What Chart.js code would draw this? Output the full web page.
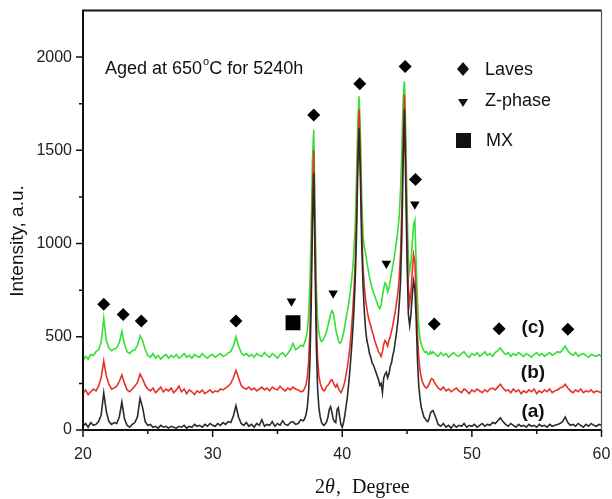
<!DOCTYPE html>
<html>
<head>
<meta charset="utf-8">
<script src="https://cdn.jsdelivr.net/npm/chart.js@4.4.1/dist/chart.umd.min.js"></script>
<style>
  html, body { margin: 0; padding: 0; background: #fff; }
  #wrap { width: 612px; height: 499px; }
</style>
</head>
<body>
<div id="wrap"><canvas id="xrd" width="612" height="499"></canvas></div>
<script>
// sampling of 2theta: [from, to, step]
const angleSegments = [[20, 36.8, 0.2], [37, 46.9, 0.1], [47, 60, 0.2]];

// (a) black trace
const intensityA = [
  // 20.0 - 36.8
  20, 35, 15, 40, 25, 30, 45, 80, 200, 100,
  45, 30, 40, 35, 70, 150, 60, 25, 15, 30,
  40, 70, 170, 120, 45, 25, 30, 15, 20, 10,
  25, 15, 20, 10, 20, 15, 10, 20, 15, 25,
  10, 20, 15, 30, 20, 25, 15, 30, 20, 35,
  25, 20, 35, 25, 40, 30, 45, 40, 75, 130,
  70, 35, 25, 40, 20, 30, 15, 35, 25, 55,
  20, 30, 25, 45, 20, 35, 25, 50, 30, 25,
  40, 45, 30, 35, 55,
  // 37.0 - 46.9
  50, 60, 80, 120, 200, 350, 650, 1100, 1380, 900,
  450, 220, 120, 70, 40, 30, 25, 35, 45, 70,
  110, 125, 95, 60, 45, 40, 110, 120, 70, 30,
  15, 40, 80, 130, 180, 250, 330, 420, 520, 640,
  800, 1050, 1400, 1620, 1350, 1000, 780, 640, 540, 480,
  450, 410, 390, 360, 350, 330, 310, 290, 270, 240,
  250, 200, 280, 300, 310, 280, 300, 340, 360, 400,
  430, 480, 530, 590, 680, 800, 1050, 1450, 1720, 1300,
  900, 620, 560, 620, 720, 800, 760, 600, 380, 240,
  170, 120, 95, 70, 60, 50, 45, 60, 90, 100,
  // 47.0 - 60.0
  105, 70, 30, 20, 35, 15, 25, 10, 30, 15,
  25, 20, 35, 15, 25, 20, 30, 15, 25, 35,
  20, 30, 25, 40, 35, 50, 65, 45, 30, 20,
  35, 25, 15, 30, 20, 25, 15, 30, 20, 25,
  15, 30, 20, 25, 15, 30, 20, 25, 30, 35,
  45, 70, 40, 25, 30, 20, 35, 25, 15, 30,
  20, 35, 25, 20, 30, 25
];

// (b) red trace
const intensityB = [
  195, 215, 190, 205, 220, 210, 235, 280, 370, 290,
  245, 220, 225, 235, 260, 295, 250, 215, 205, 220,
  235, 255, 300, 275, 240, 220, 210, 225, 200, 215,
  230, 205, 220, 210, 225, 200, 215, 235, 205, 220,
  195, 215, 205, 190, 210, 200, 215, 195, 205, 215,
  200, 210, 205, 220, 215, 225, 235, 250, 280, 320,
  280, 240, 225, 220, 230, 215, 225, 210, 220, 230,
  215, 225, 210, 230, 220, 215, 235, 220, 210, 225,
  215, 230, 220, 215, 205,
  210, 225, 240, 280, 360, 520, 800, 1250, 1500, 1050,
  600, 380, 290, 250, 230, 215, 210, 220, 235, 240,
  250, 265, 270, 255, 240, 230, 245, 225, 210, 200,
  215, 235, 260, 300, 340, 390, 450, 530, 630, 750,
  900, 1150, 1500, 1720, 1450, 1100, 880, 770, 700, 650,
  610, 580, 560, 530, 510, 480, 460, 440, 420, 410,
  395, 420, 460, 480, 470, 450, 480, 500, 530, 560,
  600, 640, 690, 740, 820, 950, 1200, 1600, 1800, 1450,
  1050, 760, 680, 740, 850, 940, 900, 720, 520, 390,
  320, 280, 255, 240, 230, 225, 235, 245, 265, 275,
  270, 245, 225, 215, 230, 210, 220, 205, 215, 225,
  210, 200, 220, 210, 195, 215, 205, 220, 210, 200,
  215, 205, 220, 225, 215, 230, 245, 225, 210, 215,
  200, 220, 205, 215, 195, 210, 200, 215, 205, 220,
  195, 210, 200, 215, 205, 220, 200, 210, 215, 225,
  230, 245, 225, 210, 200, 215, 205, 220, 200, 210,
  205, 215, 200, 210, 205, 200
];

// (c) green trace
const intensityC = [
  375, 395, 380, 405, 400, 420, 430, 470, 600, 480,
  440, 425, 435, 440, 470, 530, 460, 420, 410, 425,
  430, 455, 505, 480, 430, 400, 390, 410, 385, 400,
  380, 395, 405, 385, 400, 390, 405, 385, 395, 410,
  390, 400, 385, 405, 395, 390, 410, 395, 385, 400,
  405, 390, 400, 410, 395, 400, 415, 420, 450, 500,
  450, 415, 400, 410, 395, 405, 390, 410, 400, 395,
  415, 400, 390, 410, 400, 385, 405, 415, 395, 410,
  430, 465, 430, 440, 455,
  450, 470, 490, 530, 610, 780, 1050, 1450, 1610, 1200,
  780, 590, 520, 490, 475, 480, 495, 510, 530, 560,
  590, 620, 640, 630, 590, 540, 510, 480, 465, 470,
  490, 520, 560, 600, 640, 680, 730, 790, 860, 960,
  1100, 1350, 1650, 1790, 1600, 1250, 1050, 980, 950, 900,
  860, 820, 790, 760, 740, 720, 700, 680, 660, 650,
  670, 720, 760, 790, 780, 740, 760, 800, 840, 880,
  920, 970, 1020, 1080, 1150, 1300, 1500, 1780, 1870, 1600,
  1200, 920, 850, 900, 1000, 1100, 1125, 900, 700, 560,
  490, 460, 440, 425, 415, 420, 410, 405, 420, 410,
  420, 405, 395, 415, 400, 410, 390, 405, 415, 400,
  395, 410, 420, 400, 390, 410, 400, 415, 395, 405,
  420, 400, 410, 395, 415, 425, 440, 420, 405, 415,
  395, 410, 400, 415, 405, 395, 410, 400, 390, 405,
  415, 400, 410, 395, 405, 415, 400, 410, 420, 415,
  430, 450, 425, 410, 400, 415, 395, 405, 410, 400,
  390, 405, 400, 395, 405, 395
];

// phase markers (angle, intensity where the symbol sits)
const lavesAngle = [21.6, 23.1, 24.5, 31.8, 37.8, 41.35, 44.85, 45.65, 47.1, 52.1, 57.4];
const lavesHeight = [675, 619, 584, 584, 1689, 1857, 1949, 1344, 569, 543, 540];
const zPhaseAngle = [36.08, 39.3, 43.4, 45.6];
const zPhaseHeight = [690, 734, 893, 1211];
const mxAngle = [36.2];
const mxHeight = [575];

const xTicks = [20, 30, 40, 50, 60];
const xMinorTicks = [25, 35, 45, 55];
const yTicks = [0, 500, 1000, 1500, 2000];
const yMinorTicks = [250, 750, 1250, 1750];

// build 2theta grid
const twoTheta = [];
angleSegments.forEach(([from, to, step]) => {
  const n = Math.round((to - from) / step);
  for (let i = 0; i <= n; i++) twoTheta.push(+(from + i * step).toFixed(2));
});
if (twoTheta.length !== intensityA.length || twoTheta.length !== intensityB.length || twoTheta.length !== intensityC.length) {
  console.error("length mismatch", twoTheta.length, intensityA.length, intensityB.length, intensityC.length);
}

const toPoints = (xs, ys) => xs.map((x, i) => ({ x: x, y: ys[i] }));

function traceSet(label, values, color, order) {
  return {
    type: "line",
    label: label,
    data: toPoints(twoTheta, values),
    borderColor: color,
    borderWidth: 1.6,
    pointRadius: 0,
    tension: 0,
    order: order,
  };
}

function markerSet(label, xs, ys, style, radius, rotation) {
  return {
    type: "scatter",
    label: label,
    data: toPoints(xs, ys),
    pointStyle: style,
    pointRadius: radius,
    pointRotation: rotation || 0,
    pointBackgroundColor: "#000",
    pointBorderColor: "#000",
    pointBorderWidth: 0,
    showLine: false,
    order: 0,
  };
}

const SANS = "'Liberation Sans', Arial, sans-serif";
const SERIF = "'Liberation Serif', 'Times New Roman', serif";

// frame, minor/major ticks and the free texts
const overlay = {
  id: "overlay",
  afterDraw(chart) {
    const ctx = chart.ctx;
    const area = chart.chartArea;
    const xs = chart.scales.x;
    const ys = chart.scales.y;
    ctx.save();
    ctx.strokeStyle = "#111";

    // ticks
    ctx.lineWidth = 1.5;
    ctx.beginPath();
    xTicks.forEach((v) => {
      const px = xs.getPixelForValue(v);
      ctx.moveTo(px, area.bottom);
      ctx.lineTo(px, area.bottom + 7);
    });
    xMinorTicks.forEach((v) => {
      const px = xs.getPixelForValue(v);
      ctx.moveTo(px, area.bottom);
      ctx.lineTo(px, area.bottom + 4);
    });
    yTicks.forEach((v) => {
      const py = ys.getPixelForValue(v);
      ctx.moveTo(area.left, py);
      ctx.lineTo(area.left - 7, py);
    });
    yMinorTicks.forEach((v) => {
      const py = ys.getPixelForValue(v);
      ctx.moveTo(area.left, py);
      ctx.lineTo(area.left - 4, py);
    });
    ctx.stroke();

    // frame
    ctx.lineWidth = 2;
    ctx.beginPath();
    ctx.moveTo(area.right, area.top);
    ctx.lineTo(area.left, area.top);
    ctx.lineTo(area.left, area.bottom);
    ctx.lineTo(area.right, area.bottom);
    ctx.stroke();
    ctx.lineWidth = 1.2;
    ctx.strokeStyle = "#555";
    ctx.beginPath();
    ctx.moveTo(area.right, area.top);
    ctx.lineTo(area.right, area.bottom);
    ctx.stroke();

    ctx.fillStyle = "#111";
    ctx.textBaseline = "alphabetic";
    ctx.textAlign = "left";

    // condition text
    ctx.font = "18px " + SANS;
    let tx = 105;
    ctx.fillText("Aged at 650", tx, 74);
    tx += ctx.measureText("Aged at 650").width + 1;
    ctx.font = "11px " + SANS;
    ctx.fillText("o", tx, 65);
    tx += ctx.measureText("o").width;
    ctx.font = "18px " + SANS;
    ctx.fillText("C for 5240h", tx, 74);

    // legend
    ctx.beginPath();
    ctx.moveTo(463, 62); ctx.lineTo(469, 69); ctx.lineTo(463, 76); ctx.lineTo(457, 69);
    ctx.closePath();
    ctx.fill();
    ctx.beginPath();
    ctx.moveTo(458, 99); ctx.lineTo(468, 99); ctx.lineTo(463, 107);
    ctx.closePath();
    ctx.fill();
    ctx.fillRect(456, 133, 15, 15);
    ctx.textBaseline = "middle";
    ctx.fillText("Laves", 485, 70);
    ctx.fillText("Z-phase", 485, 101);
    ctx.fillText("MX", 486, 141);

    // trace labels
    ctx.font = "bold 19px " + SANS;
    ctx.textAlign = "center";
    ctx.fillText("(c)", 533, 328);
    ctx.fillText("(b)", 533, 373);
    ctx.fillText("(a)", 533, 412);

    // y title
    ctx.save();
    ctx.translate(18, 241);
    ctx.rotate(-Math.PI / 2);
    ctx.font = "19px " + SANS;
    ctx.fillText("Intensity, a.u.", 0, 0);
    ctx.restore();

    // x title: 2θ, Degree
    ctx.textAlign = "left";
    ctx.textBaseline = "alphabetic";
    ctx.font = "20px " + SERIF;
    ctx.fillText("2", 315, 493);
    ctx.font = "italic 20px " + SERIF;
    ctx.fillText("\u03b8", 325, 493);
    ctx.font = "20px " + SERIF;
    ctx.fillText(",", 336, 493);
    ctx.fillText("Degree", 352, 493);

    ctx.restore();
  },
};

const chart = new Chart(document.getElementById("xrd"), {
  data: {
    datasets: [
      markerSet("Laves", lavesAngle, lavesHeight, "rectRot", 6.5),
      markerSet("Z-phase", zPhaseAngle, zPhaseHeight, "triangle", 5.5, 180),
      markerSet("MX", mxAngle, mxHeight, "rect", 10.5),
      traceSet("(a)", intensityA, "#2a2a2a", 1),
      traceSet("(b)", intensityB, "#e8302a", 2),
      traceSet("(c)", intensityC, "#33e033", 3),
    ],
  },
  options: {
    responsive: false,
    animation: false,
    devicePixelRatio: 1,
    layout: { padding: { top: 6, right: 10, left: 0, bottom: 0 } },
    plugins: { legend: { display: false }, tooltip: { enabled: false } },
    scales: {
      x: {
        type: "linear",
        min: 20,
        max: 60,
        afterBuildTicks: (scale) => { scale.ticks = xTicks.map((v) => ({ value: v })); },
        afterFit: (scale) => {
          scale.height = 69;
          scale.paddingLeft = 0;
          scale.paddingRight = 0;
        },
        grid: { display: false, drawTicks: true, tickLength: 7 },
        border: { display: false },
        ticks: { padding: 8, color: "#222", font: { family: SANS, size: 16 }, maxRotation: 0, callback: (v) => String(v) },
      },
      y: {
        type: "linear",
        min: 0,
        max: 2250,
        afterBuildTicks: (scale) => { scale.ticks = yTicks.map((v) => ({ value: v })); },
        afterFit: (scale) => {
          scale.width = 83;
          scale.paddingTop = 0;
          scale.paddingBottom = 0;
        },
        grid: { display: false, drawTicks: true, tickLength: 7 },
        border: { display: false },
        ticks: { padding: 4, color: "#222", font: { family: SANS, size: 16 }, callback: (v) => String(v) },
      },
    },
  },
  plugins: [overlay],
});
</script>
</body>
</html>
